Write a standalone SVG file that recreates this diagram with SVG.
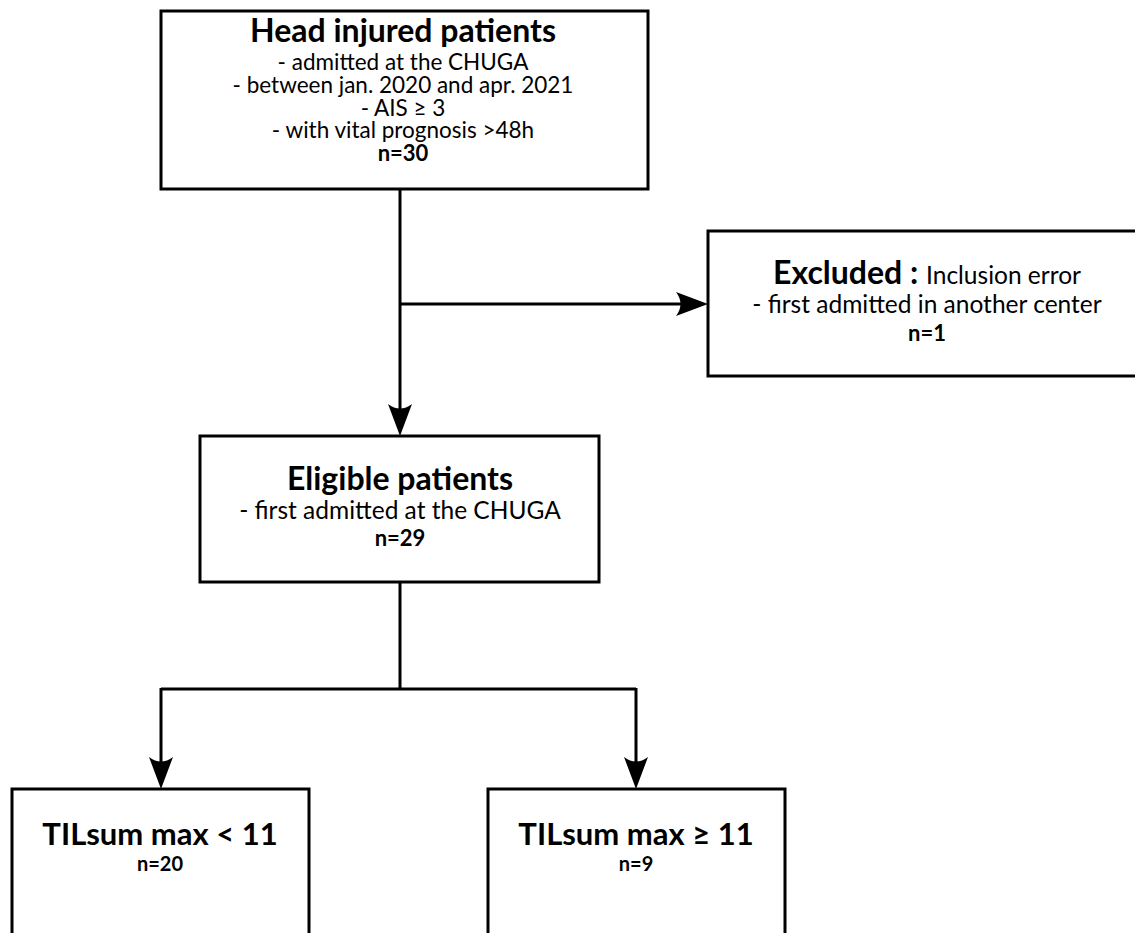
<svg xmlns="http://www.w3.org/2000/svg" width="1135" height="933" viewBox="0 0 1135 933">
<style>
.box{fill:#fff;stroke:#000;stroke-width:3}
.t{font-family:Lato,"Open Sans","Liberation Sans",sans-serif;fill:#000;text-anchor:middle}
.h{font-size:32px;font-weight:bold}
.r{font-size:22.5px}
.r2{font-size:24.5px}
.n{font-size:22px;font-weight:bold}
.c{fill:none;stroke:#000;stroke-width:3}
</style>
<defs>
<marker id="ah" viewBox="-34 -13 36 26" refX="-20" refY="0" markerWidth="36" markerHeight="26" markerUnits="userSpaceOnUse" orient="auto">
<path d="M0,0 L-32,-12 Q-23,0 -32,12 Z" fill="#000"/>
</marker>
</defs>
<g id="connectors">
<path class="c" d="M400,190 V416" marker-end="url(#ah)"/>
<path class="c" d="M400,304 H688" marker-end="url(#ah)"/>
<path class="c" d="M400,583 V689 M161,689 H636"/>
<path class="c" d="M161,688 V769" marker-end="url(#ah)"/>
<path class="c" d="M636,688 V769" marker-end="url(#ah)"/>
</g>
<g id="head">
<rect class="box" x="161" y="11" width="487" height="178"/>
<text class="t h" x="403" y="42">Head injured patients</text>
<text class="t r" x="403" y="70">- admitted at the CHUGA</text>
<text class="t r" x="403" y="93">- between jan. 2020 and apr. 2021</text>
<text class="t r" x="403" y="116">- AIS ≥ 3</text>
<text class="t r" x="403" y="138">- with vital prognosis &gt;48h</text>
<text class="t n" x="403" y="161">n=30</text>
</g>
<g id="excluded">
<rect class="box" x="708" y="231" width="440" height="145"/>
<text class="t" x="927" y="284"><tspan style="font-size:32px;font-weight:bold">Excluded : </tspan><tspan class="r2">Inclusion error</tspan></text>
<text class="t r2" x="927" y="313">- first admitted in another center</text>
<text class="t n" x="927" y="341">n=1</text>
</g>
<g id="eligible">
<rect class="box" x="200" y="436" width="399" height="146"/>
<text class="t h" x="400" y="490">Eligible patients</text>
<text class="t r2" x="400" y="519">- first admitted at the CHUGA</text>
<text class="t n" x="400" y="546">n=29</text>
</g>
<g id="low">
<rect class="box" x="12" y="789" width="297" height="160"/>
<text class="t h" x="160" y="845" style="font-size:31px">TILsum max &lt; 11</text>
<text class="t n" x="160" y="871" style="font-size:20px">n=20</text>
</g>
<g id="high">
<rect class="box" x="488" y="789" width="297" height="160"/>
<text class="t h" x="636" y="845" style="font-size:31px">TILsum max ≥ 11</text>
<text class="t n" x="636" y="871" style="font-size:20px">n=9</text>
</g>
</svg>
